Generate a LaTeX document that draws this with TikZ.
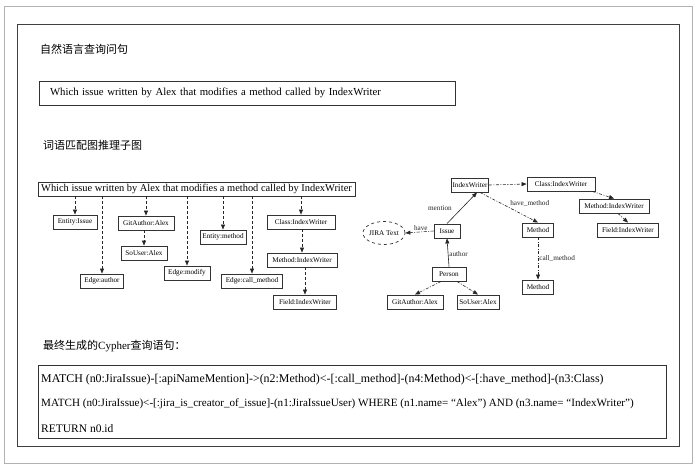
\documentclass[tikz,border=0pt]{standalone}
\usepackage{fontspec}
\setmainfont{Liberation Serif}
\newfontfamily\cjk{Noto Sans CJK SC}
\usetikzlibrary{arrows.meta,shapes.geometric}
\begin{document}
\begin{tikzpicture}[x=1pt,y=-1pt,
  box/.style={draw=black!80, line width=0.9pt, inner xsep=1pt, inner ysep=1pt, minimum height=14pt, font=\fontsize{7.2}{8}\selectfont},
  lab/.style={font=\fontsize{7.2}{8}\selectfont, inner sep=1pt},
  arr/.style={-{Triangle[length=5pt,width=4pt]}, line width=0.6pt, black!85},
  dsh/.style={arr, dash pattern=on 3pt off 2pt},
  dd/.style={arr, dash pattern=on 3pt off 1.5pt on 1pt off 1.5pt},
  head/.style={anchor=west, inner sep=0pt, font=\cjk\fontsize{11}{13}\selectfont},
  cy/.style={anchor=west, inner sep=0pt},
]
\useasboundingbox (0,0) rectangle (700,468);
\fill[white] (0,0) rectangle (700,468);
\draw[black!30, line width=1pt] (4,7) rectangle (692,463);
\draw[black!75, line width=1pt] (17,25) rectangle (679,446);

\node[head] (h1) at (40,49) {自然语言查询问句};
\node[draw=black!80, line width=0.9pt, minimum height=24pt, text width=394pt, inner xsep=11pt, align=left, font=\fontsize{10.75}{13}\selectfont] (q) at (247,93) {Which issue written by Alex that modifies a method called by IndexWriter};

\node[head] (h2) at (43,145) {词语匹配图推理子图};

% left graph
\node[box, minimum width=317pt, font=\fontsize{10.4}{12}\selectfont] (w) at (196.5,189) {Which issue written by Alex that modifies a method called by IndexWriter};
\node[box, minimum width=44pt] (ei) at (75,222) {Entity:Issue};
\node[box, minimum width=43pt] (ea) at (102,281) {Edge:author};
\node[box, minimum width=56pt] (ga1) at (146,223) {GitAuthor:Alex};
\node[box, minimum width=46pt] (su1) at (144,253) {SoUser:Alex};
\node[box, minimum width=46pt] (em) at (187,273) {Edge:modify};
\node[box, minimum width=46pt] (en) at (223,237) {Entity:method};
\node[box, minimum width=61pt] (ec) at (252,281) {Edge:call\_method};
\node[box, minimum width=68pt] (ci1) at (301,222) {Class:IndexWriter};
\node[box, minimum width=70pt] (mi1) at (302,260) {Method:IndexWriter};
\node[box, minimum width=63pt] (fi1) at (305,302) {Field:IndexWriter};

\foreach \t in {ei,ea,ga1,em,en,ec,ci1}
  \draw[dsh] (w.south -| \t.north) -- (\t.north);
\draw[dsh] (ga1.south -| su1.north) -- (su1.north);
\draw[dsh] (ci1.south -| mi1.north) -- (mi1.north);
\draw[dsh] (mi1.south -| fi1.north) -- (fi1.north);

% right graph
\node[box, minimum width=36pt] (iw) at (470,185) {IndexWriter};
\node[box, minimum width=68pt] (ciw) at (561,184) {Class:IndexWriter};
\node[box, minimum width=70pt] (miw) at (614,206) {Method:IndexWriter};
\node[box, minimum width=61pt] (fiw) at (628,230) {Field:IndexWriter};
\node[box, minimum width=31pt] (m1) at (538,230) {Method};
\node[box, minimum width=31pt] (m2) at (538,287) {Method};
\node[box, minimum width=26pt] (is) at (447,231) {Issue};
\node[ellipse, draw=black!80, line width=0.7pt, dashed, minimum width=36pt, minimum height=23pt, inner sep=0pt, font=\fontsize{7.2}{8}\selectfont] (jt) at (384,233) {JIRA Text};
\node[box, minimum width=34pt] (pe) at (449,274) {Person};
\node[box, minimum width=56pt] (ga2) at (415,302) {GitAuthor:Alex};
\node[box, minimum width=42pt] (su2) at (478,302) {SoUser:Alex};

\draw[dd] (iw.east) -- (ciw.west);
\draw[dd] ([xshift=-3pt]ciw.south east) -- (miw.north);
\draw[dd] ([xshift=4pt]miw.south) -- (fiw.north);
\draw[dd] ([xshift=10pt]iw.south) -- (m1.north) node[lab, pos=0.5, above right] (lhm) {have\_method};
\draw[dd] (m1.south) -- (m2.north) node[lab, pos=0.5, right] (lcm) {call\_method};
\draw[arr] (is.north) -- ([xshift=7pt]iw.south) node[lab, pos=0.5, left=9pt] (lme) {mention};
\draw[dd] (is.west) -- (jt.east) node[lab, pos=0.45, above] (lhv) {have};
\draw[arr] (pe.north) -- (is.south) node[lab, pos=0.45, right] (lau) {author};
\draw[dd] ([xshift=-8pt]pe.south) -- (ga2.north);
\draw[dd] ([xshift=8pt]pe.south) -- (su2.north);

% cypher
\node[head] (h3) at (43,346) {最终生成的{\rmfamily Cypher}查询语句：};
\node[draw=black!80, line width=0.9pt, minimum width=628pt, minimum height=73pt, inner sep=0pt] (cb) at (352,401.5) {};
\node[cy, font=\fontsize{11.9}{13}\selectfont] (c1) at (41,380) {MATCH (n0:JiraIssue)-[:apiNameMention]->(n2:Method)<-[:call\_method]-(n4:Method)<-[:have\_method]-(n3:Class)};
\node[cy, font=\fontsize{11.1}{13}\selectfont] (c2) at (41,404) {MATCH (n0:JiraIssue)<-[:jira\_is\_creator\_of\_issue]-(n1:JiraIssueUser) WHERE (n1.name= “Alex”) AND (n3.name= “IndexWriter”)};
\node[cy, font=\fontsize{11.5}{13}\selectfont] (c3) at (41,429) {RETURN n0.id};
\end{tikzpicture}
\end{document}
